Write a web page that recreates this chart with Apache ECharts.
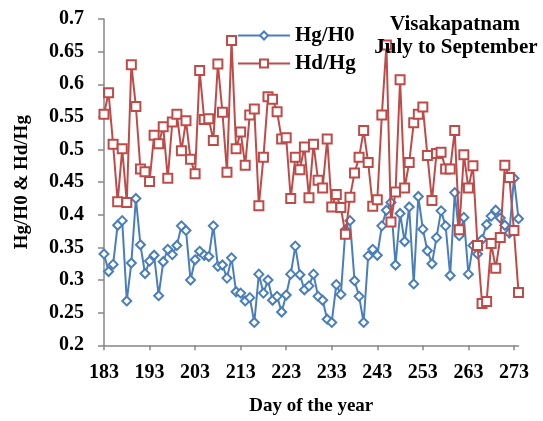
<!DOCTYPE html>
<html>
<head>
<meta charset="utf-8">
<script src="https://cdn.jsdelivr.net/npm/echarts@6/dist/echarts.min.js"></script>
<style>
html,body{margin:0;padding:0;background:#fff;}
#chart{width:543px;height:421px;}
</style>
</head>
<body>
<div id="chart"></div>
<script>
// Days of the year (category axis)
const days = [];
for (let d = 183; d <= 274; d++) days.push(String(d));

// Hg/H0 series (blue diamonds)
const hgH0 = [
0.340,0.313,0.324,0.384,0.391,0.268,0.326,0.425,0.354,0.310,
0.329,0.338,0.276,0.328,0.347,0.339,0.353,0.383,0.376,0.300,
0.331,0.344,0.338,0.336,0.383,0.321,0.323,0.303,0.334,0.282,
0.280,0.268,0.273,0.235,0.309,0.280,0.300,0.269,0.275,0.251,
0.277,0.309,0.352,0.308,0.285,0.291,0.309,0.275,0.269,0.240,
0.235,0.293,0.278,0.377,0.391,0.299,0.275,0.235,0.337,0.347,
0.338,0.383,0.407,0.419,0.323,0.402,0.359,0.412,0.294,0.428,
0.378,0.345,0.325,0.365,0.406,0.383,0.307,0.434,0.368,0.396,
0.309,0.353,0.340,0.362,0.385,0.398,0.407,0.395,0.384,0.372,
0.456,0.394
];

// Hd/Hg series (red squares)
const hdHg = [
0.554,0.587,0.508,0.420,0.501,0.419,0.630,0.566,0.470,0.466,
0.451,0.522,0.509,0.535,0.456,0.542,0.554,0.498,0.544,0.485,
0.463,0.621,0.546,0.547,0.514,0.631,0.557,0.465,0.667,0.501,
0.527,0.476,0.553,0.562,0.414,0.488,0.581,0.577,0.558,0.516,
0.518,0.425,0.488,0.469,0.504,0.426,0.508,0.453,0.441,0.516,
0.412,0.431,0.411,0.370,0.427,0.464,0.488,0.529,0.480,0.413,
0.423,0.553,0.660,0.389,0.435,0.607,0.441,0.480,0.541,0.554,
0.565,0.491,0.422,0.494,0.496,0.470,0.470,0.529,0.377,0.492,
0.441,0.475,0.353,0.264,0.267,0.356,0.318,0.365,0.476,0.457,
0.376,0.281
];

const seriesNames = ['Hg/H0', 'Hd/Hg'];
const titleLines = ['Visakapatnam', 'July to September'];
const xAxisName = 'Day of the year';
const yAxisName = 'Hg/H0 & Hd/Hg';

const FONT = '"Liberation Serif", "Times New Roman", serif';
const BLUE = '#4A7EBB';
const RED = '#BE4B48';
const AXIS = '#868686';

const chart = echarts.init(document.getElementById('chart'), null, {renderer: 'canvas'});
chart.setOption({
  animation: false,
  backgroundColor: '#fff',
  grid: {left: 104, right: 24.5, top: 19, bottom: 75.7, containLabel: false},
  legend: {
    orient: 'vertical',
    left: 232, top: 20,
    itemWidth: 52, itemHeight: 10, itemGap: 7,
    textStyle: {fontFamily: FONT, fontWeight: 'bold', fontSize: 21, color: '#000'},
    data: seriesNames
  },
  graphic: [
    {type: 'text', x: 455, y: 25, style: {text: titleLines[0], fill: '#000', font: 'bold 21px ' + FONT, textAlign: 'center', textVerticalAlign: 'middle'}, z: 100},
    {type: 'text', x: 456, y: 48, style: {text: titleLines[1], fill: '#000', font: 'bold 21px ' + FONT, textAlign: 'center', textVerticalAlign: 'middle'}, z: 100}
  ],
  xAxis: {
    type: 'category',
    data: days,
    boundaryGap: false,
    name: xAxisName,
    nameLocation: 'middle',
    nameGap: 51,
    nameTextStyle: {fontFamily: FONT, fontWeight: 'bold', fontSize: 19, color: '#000'},
    axisLine: {lineStyle: {color: AXIS, width: 1.5}},
    axisTick: {show: true, interval: 9, length: 5, inside: false, lineStyle: {color: AXIS, width: 1.5}},
    axisLabel: {interval: 9, margin: 18, fontFamily: FONT, fontWeight: 'bold', fontSize: 20, color: '#000'},
    splitLine: {show: false}
  },
  yAxis: {
    type: 'value',
    min: 0.2, max: 0.7, interval: 0.05,
    name: yAxisName,
    nameLocation: 'middle',
    nameRotate: 90,
    nameGap: 72,
    nameTextStyle: {fontFamily: FONT, fontWeight: 'bold', fontSize: 19, color: '#000'},
    axisLine: {show: true, lineStyle: {color: AXIS, width: 1.5}},
    axisTick: {show: true, length: 6, lineStyle: {color: AXIS, width: 1.5}},
    axisLabel: {margin: 20, fontFamily: FONT, fontWeight: 'bold', fontSize: 20, color: '#000',
      formatter: v => String(Math.round(v * 100) / 100)},
    splitLine: {show: false}
  },
  series: [
    {
      name: seriesNames[0], type: 'line', data: hgH0,
      symbol: 'emptyDiamond', symbolSize: 9,
      showSymbol: true, showAllSymbol: true,
      lineStyle: {color: BLUE, width: 2},
      itemStyle: {color: BLUE, borderWidth: 2},
      z: 2
    },
    {
      name: seriesNames[1], type: 'line', data: hdHg,
      symbol: 'emptyRect', symbolSize: 9,
      showSymbol: true, showAllSymbol: true,
      lineStyle: {color: RED, width: 2},
      itemStyle: {color: RED, borderWidth: 2},
      z: 3
    }
  ]
});
</script>
</body>
</html>
